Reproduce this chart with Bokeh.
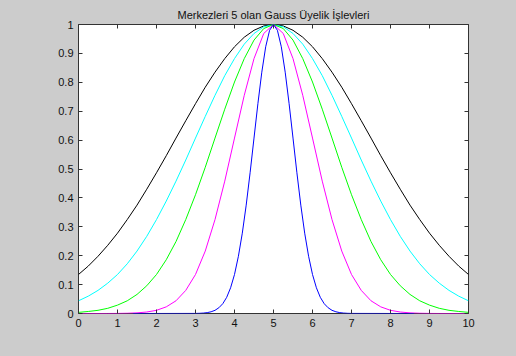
from bokeh.plotting import figure
from bokeh.models import Range1d, FixedTicker, LinearAxis
from bokeh.embed import file_html
from bokeh.resources import INLINE

title_text = "Merkezleri 5 olan Gauss Üyelik İşlevleri"

# Sampling grid (shared by the four wider curves)
x_grid = [0, 0.25, 0.5, 0.75, 1, 1.25, 1.5, 1.75, 2, 2.25, 2.5, 2.75, 3, 3.25, 3.5, 3.75,
          4, 4.25, 4.5, 4.75, 5, 5.25, 5.5, 5.75, 6, 6.25, 6.5, 6.75, 7, 7.25, 7.5, 7.75,
          8, 8.25, 8.5, 8.75, 9, 9.25, 9.5, 9.75, 10]

black_y = [0.135, 0.164, 0.198, 0.236, 0.278, 0.325, 0.375, 0.430, 0.487, 0.546, 0.607,
           0.667, 0.726, 0.783, 0.835, 0.882, 0.923, 0.956, 0.980, 0.995, 1.0,
           0.995, 0.980, 0.956, 0.923, 0.882, 0.835, 0.783, 0.726, 0.667, 0.607,
           0.546, 0.487, 0.430, 0.375, 0.325, 0.278, 0.236, 0.198, 0.164, 0.135]

cyan_y = [0.044, 0.060, 0.080, 0.105, 0.135, 0.172, 0.216, 0.267, 0.325, 0.389, 0.458,
          0.531, 0.607, 0.682, 0.755, 0.823, 0.882, 0.932, 0.969, 0.992, 1.0,
          0.992, 0.969, 0.932, 0.882, 0.823, 0.755, 0.682, 0.607, 0.531, 0.458,
          0.389, 0.325, 0.267, 0.216, 0.172, 0.135, 0.105, 0.080, 0.060, 0.044]

green_y = [0.004, 0.007, 0.011, 0.018, 0.029, 0.044, 0.066, 0.096, 0.135, 0.186, 0.249,
           0.325, 0.411, 0.506, 0.607, 0.707, 0.801, 0.882, 0.946, 0.986, 1.0,
           0.986, 0.946, 0.882, 0.801, 0.707, 0.607, 0.506, 0.411, 0.325, 0.249,
           0.186, 0.135, 0.096, 0.066, 0.044, 0.029, 0.018, 0.011, 0.007, 0.004]

magenta_y = [0.0, 0.0, 0.0, 0.0001, 0.0003, 0.0009, 0.0022, 0.0051, 0.011, 0.023, 0.044,
             0.080, 0.135, 0.216, 0.325, 0.458, 0.607, 0.755, 0.882, 0.969, 1.0,
             0.969, 0.882, 0.755, 0.607, 0.458, 0.325, 0.216, 0.135, 0.080, 0.044,
             0.023, 0.011, 0.0051, 0.0022, 0.0009, 0.0003, 0.0001, 0.0, 0.0, 0.0]

blue_x = [1.4, 3.0, 3.1, 3.2, 3.3, 3.4, 3.5, 3.6, 3.7, 3.8, 3.9, 4.0, 4.1, 4.2, 4.3, 4.4,
          4.5, 4.6, 4.7, 4.8, 4.9, 5.0, 5.1, 5.2, 5.3, 5.4, 5.5, 5.6, 5.7, 5.8, 5.9, 6.0,
          6.1, 6.2, 6.3, 6.4, 6.5, 6.6, 6.7, 6.8, 6.9, 7.0, 8.6]
blue_y = [0.0, 0.0003, 0.0007, 0.0015, 0.003, 0.006, 0.011, 0.020, 0.034, 0.056, 0.089,
          0.135, 0.198, 0.278, 0.375, 0.487, 0.607, 0.726, 0.835, 0.923, 0.980, 1.0,
          0.980, 0.923, 0.835, 0.726, 0.607, 0.487, 0.375, 0.278, 0.198, 0.135, 0.089,
          0.056, 0.034, 0.020, 0.011, 0.006, 0.003, 0.0015, 0.0007, 0.0003, 0.0]

x_ticks = [0, 1, 2, 3, 4, 5, 6, 7, 8, 9, 10]
y_ticks = [0, 0.1, 0.2, 0.3, 0.4, 0.5, 0.6, 0.7, 0.8, 0.9, 1]
y_tick_labels = ["0", "0.1", "0.2", "0.3", "0.4", "0.5", "0.6", "0.7", "0.8", "0.9", "1"]

FONT = "Liberation Sans"
BG = "#cccccc"
AX = "#333333"

p = figure(width=516, height=356, output_backend="svg", toolbar_location=None,
           x_range=Range1d(0, 10), y_range=Range1d(0, 1),
           min_border_left=78, min_border_right=48, min_border_top=24, min_border_bottom=43,
           background_fill_color="white", border_fill_color=BG,
           outline_line_color=AX, outline_line_width=1)
p.grid.visible = False

p.title.text = title_text
p.title.align = "center"
p.title.text_font = FONT
p.title.text_font_size = "11px"
p.title.text_font_style = "normal"
p.title.text_color = "#111111"
p.title.standoff = 8


def style_axis(ax, labels=True):
    ax.axis_line_color = None
    ax.major_tick_in = 4
    ax.major_tick_out = 0
    ax.major_tick_line_color = AX
    ax.minor_tick_line_color = None
    if labels:
        ax.major_label_text_font = FONT
        ax.major_label_text_font_size = "11px"
        ax.major_label_text_color = "#111111"
    else:
        ax.major_label_text_color = None
        ax.major_label_text_font_size = "1px"
        ax.major_label_standoff = 0


p.xaxis.ticker = FixedTicker(ticks=x_ticks)
p.yaxis.ticker = FixedTicker(ticks=y_ticks)
p.yaxis.major_label_overrides = {t: s for t, s in zip(y_ticks, y_tick_labels)}
style_axis(p.xaxis[0])
style_axis(p.yaxis[0])
p.xaxis.major_label_standoff = 5
p.yaxis.major_label_standoff = 5

top_ax = LinearAxis(ticker=FixedTicker(ticks=x_ticks))
right_ax = LinearAxis(ticker=FixedTicker(ticks=y_ticks))
style_axis(top_ax, labels=False)
style_axis(right_ax, labels=False)
p.add_layout(top_ax, "above")
p.add_layout(right_ax, "right")

p.line(x_grid, black_y, line_color="black", line_width=1)
p.line(x_grid, cyan_y, line_color="#00ffff", line_width=1)
p.line(x_grid, green_y, line_color="#00ff00", line_width=1)
p.line(x_grid, magenta_y, line_color="#ff00ff", line_width=1)
p.line(blue_x, blue_y, line_color="#0000ff", line_width=1)

html = file_html(p, INLINE)
html = html.replace("<head>", "<head><style>html,body{background:#cccccc;}</style>", 1)
open("out.html", "w").write(html)
